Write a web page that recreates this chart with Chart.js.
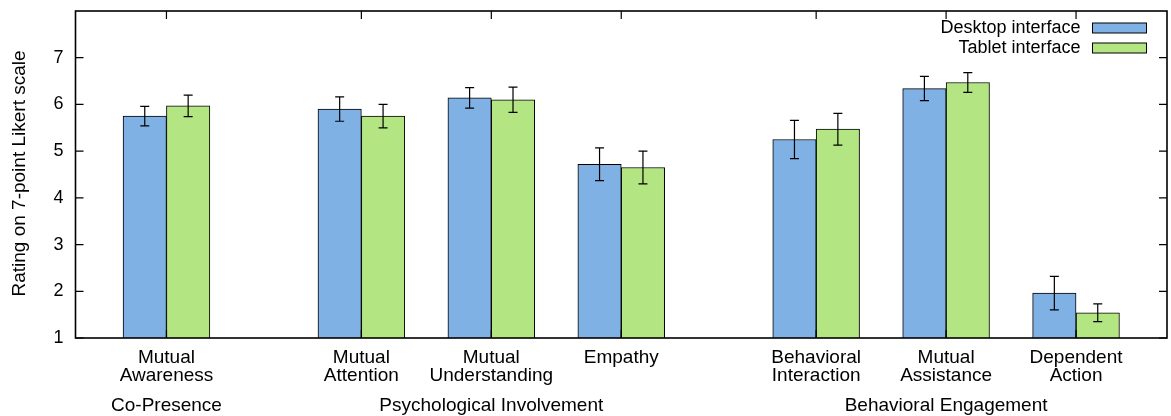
<!DOCTYPE html>
<html>
<head>
<meta charset="utf-8">
<script src="https://cdn.jsdelivr.net/npm/chart.js@4/dist/chart.umd.min.js"></script>
<style>
  html, body { margin: 0; padding: 0; background: #fff; }
  #wrap { width: 1171px; height: 416px; }
</style>
</head>
<body>
<div id="wrap"><canvas id="chart" width="1171" height="416"></canvas></div>
<script>
// Measures, grouped by construct
const categories = [
  ['Mutual', 'Awareness'],
  ['Mutual', 'Attention'],
  ['Mutual', 'Understanding'],
  ['Empathy'],
  ['Behavioral', 'Interaction'],
  ['Mutual', 'Assistance'],
  ['Dependent', 'Action']
];
// x position of each measure (gaps separate the constructs)
const positions = [0, 1.5, 2.5, 3.5, 5, 6, 7];

const seriesNames = ['Desktop interface', 'Tablet interface'];
const desktopMeans = [5.75, 5.90, 6.14, 4.72, 5.25, 6.34, 1.96];
const desktopErrors = [0.21, 0.26, 0.22, 0.35, 0.41, 0.26, 0.36];
const tabletMeans = [5.97, 5.75, 6.10, 4.65, 5.47, 6.47, 1.54];
const tabletErrors = [0.23, 0.25, 0.27, 0.35, 0.34, 0.21, 0.19];

// Construct labels and where they sit on the x axis
const groupLabels = ['Co-Presence', 'Psychological Involvement', 'Behavioral Engagement'];
const groupPositions = [0, 2.5, 6];

const yTicks = [1, 2, 3, 4, 5, 6, 7];
const yTitle = 'Rating on 7-point Likert scale';

const FONT = '"Liberation Sans", Arial, Helvetica, sans-serif';
const BLUE = '#80b1e4';
const GREEN = '#b3e682';

const errorsBySeries = [desktopErrors, tabletErrors];

// Whiskers with caps, centred on each bar
const errorBars = {
  id: 'errorBars',
  afterDatasetsDraw(chart) {
    const ctx = chart.ctx;
    const y = chart.scales.y;
    ctx.save();
    ctx.strokeStyle = '#000';
    ctx.lineWidth = 1.2;
    chart.data.datasets.forEach((ds, di) => {
      const meta = chart.getDatasetMeta(di);
      meta.data.forEach((bar, i) => {
        const v = ds.data[i].y;
        const e = errorsBySeries[di][i];
        const top = y.getPixelForValue(v + e);
        const bot = y.getPixelForValue(v - e);
        const x = bar.x;
        ctx.beginPath();
        ctx.moveTo(x, top); ctx.lineTo(x, bot);
        ctx.moveTo(x - 4.5, top); ctx.lineTo(x + 4.5, top);
        ctx.moveTo(x - 4.5, bot); ctx.lineTo(x + 4.5, bot);
        ctx.stroke();
      });
    });
    ctx.restore();
  }
};

// Border box, inward ticks, legend, construct labels and axis title
const decorations = {
  id: 'decorations',
  afterDraw(chart) {
    const ctx = chart.ctx;
    const a = chart.chartArea;
    const xs = chart.scales.x, ys = chart.scales.y;
    ctx.save();
    ctx.strokeStyle = '#000';
    ctx.lineWidth = 1.6;
    ctx.strokeRect(a.left, a.top, a.right - a.left, a.bottom - a.top);

    ctx.lineWidth = 1.2;
    ctx.beginPath();
    yTicks.forEach(v => {
      const p = ys.getPixelForValue(v);
      ctx.moveTo(a.left, p); ctx.lineTo(a.left + 8, p);
      ctx.moveTo(a.right, p); ctx.lineTo(a.right - 8, p);
    });
    positions.forEach(v => {
      const p = xs.getPixelForValue(v);
      ctx.moveTo(p, a.top); ctx.lineTo(p, a.top + 8);
      ctx.moveTo(p, a.bottom); ctx.lineTo(p, a.bottom - 8);
    });
    ctx.stroke();

    // legend: text right-aligned, sample box to its right
    ctx.font = '18px ' + FONT;
    ctx.textAlign = 'right';
    ctx.textBaseline = 'middle';
    const boxRight = a.right - 20.5, boxLeft = boxRight - 54;
    chart.data.datasets.forEach((ds, i) => {
      const cy = 28 + i * 20;
      ctx.fillStyle = '#000';
      ctx.fillText(ds.label, boxLeft - 12, cy);
      ctx.fillStyle = ds.backgroundColor;
      ctx.fillRect(boxLeft, cy - 5, 54, 10);
      ctx.lineWidth = 1;
      ctx.strokeRect(boxLeft, cy - 5, 54, 10);
    });

    // construct labels below the measure names
    ctx.font = '19px ' + FONT;
    ctx.fillStyle = '#000';
    ctx.textAlign = 'center';
    ctx.textBaseline = 'alphabetic';
    groupLabels.forEach((g, i) => {
      ctx.fillText(g, xs.getPixelForValue(groupPositions[i]), 411);
    });

    // y axis title
    ctx.translate(20, (a.top + a.bottom) / 2 - 1);
    ctx.rotate(-Math.PI / 2);
    ctx.textBaseline = 'middle';
    ctx.fillText(yTitle, 0, 0);
    ctx.restore();
  }
};

const seriesData = [desktopMeans, tabletMeans];
const seriesColors = [BLUE, GREEN];

new Chart(document.getElementById('chart'), {
  type: 'bar',
  data: {
    datasets: seriesNames.map((name, s) => ({
      label: name,
      data: positions.map((x, i) => ({ x: x, y: seriesData[s][i] })),
      backgroundColor: seriesColors[s],
      borderColor: '#000',
      borderWidth: 1,
      borderSkipped: 'start',
      barThickness: 43.4
    }))
  },
  options: {
    responsive: false,
    animation: false,
    devicePixelRatio: 1,
    layout: { padding: { left: 0, right: 4, top: 11, bottom: 0 } },
    plugins: { legend: { display: false }, tooltip: { enabled: false } },
    scales: {
      x: {
        type: 'linear',
        min: -0.7,
        max: 7.7,
        offset: false,
        grid: { display: false, drawTicks: false },
        border: { display: false },
        afterBuildTicks: s => { s.ticks = positions.map(v => ({ value: v })); },
        afterFit: s => { s.height = 78; s.paddingLeft = 0; s.paddingRight = 0; },
        ticks: {
          autoSkip: false,
          maxRotation: 0,
          padding: 11,
          color: '#000',
          font: { family: FONT, size: 19, lineHeight: 0.95 },
          callback: (v, i) => categories[i]
        }
      },
      y: {
        min: 1,
        max: 8,
        grid: { display: false, drawTicks: false },
        border: { display: false },
        afterBuildTicks: s => { s.ticks = yTicks.map(v => ({ value: v })); },
        afterFit: s => { s.width = 75.5; s.paddingTop = 0; s.paddingBottom = 0; },
        ticks: {
          padding: 12,
          color: '#000',
          font: { family: FONT, size: 18 }
        }
      }
    }
  },
  plugins: [errorBars, decorations]
});
</script>
</body>
</html>
